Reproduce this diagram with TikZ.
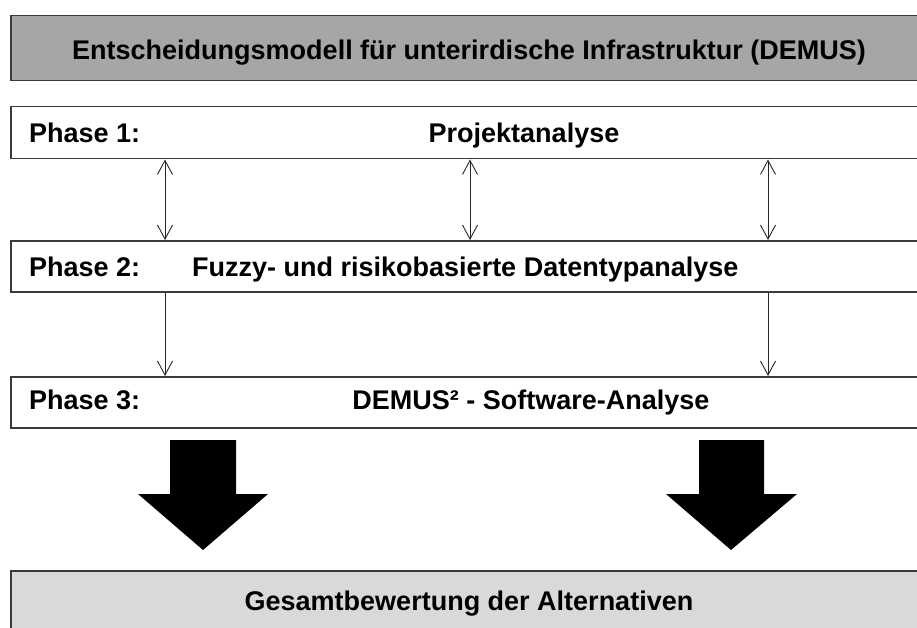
\documentclass[tikz,border=0pt]{standalone}
\usepackage{fontspec}
\setmainfont{Liberation Sans}
\usetikzlibrary{arrows.meta}
\definecolor{edge}{HTML}{3A3A3A}
\definecolor{gtop}{HTML}{A6A6A6}
\definecolor{gbot}{HTML}{D9D9D9}
\tikzset{barb/.tip={Straight Barb[length=14pt,width=15pt,line width=0.9pt]}}
\begin{document}
\begin{tikzpicture}[x=1pt,y=-1pt,
  box/.style={draw=edge, line width=1.5pt, rectangle, anchor=north west, inner sep=0pt, minimum width=925pt},
  lbl/.style={font=\fontsize{27}{30}\selectfont\bfseries, inner sep=0pt},
  conn/.style={draw=black!85, line width=0.9pt},
  bigarrow/.style={fill=black}]
\useasboundingbox (0,0) rectangle (917,628);
\clip (0,0) rectangle (917,628);
% boxes
\node[box, fill=gtop, minimum height=65pt] (top) at (10,15) {};
\node[box, fill=white, minimum height=52pt] (p1) at (10,106) {};
\node[box, fill=white, minimum height=51pt] (p2) at (10,240) {};
\node[box, fill=white, minimum height=51pt] (p3) at (10,376) {};
\node[box, fill=gbot, minimum height=80pt] (res) at (10,570) {};
% texts
\node[lbl, anchor=base] (ttop) at (469,60) {Entscheidungsmodell für unterirdische Infrastruktur (DEMUS)};
\node[lbl, anchor=base west] (ph1) at (29,143) {Phase 1:};
\node[lbl, anchor=base] (t1) at (524,143) {Projektanalyse};
\node[lbl, anchor=base west] (ph2) at (29,276) {Phase 2:};
\node[lbl, anchor=base west] (t2) at (192,276) {Fuzzy- und risikobasierte Datentypanalyse};
\node[lbl, anchor=base west] (ph3) at (29,409) {Phase 3:};
\node[lbl, anchor=base] (t3) at (531,409) {DEMUS² - Software-Analyse};
\node[lbl, anchor=base] (tres) at (469,610) {Gesamtbewertung der Alternativen};
% connector columns
\coordinate (xa) at (165,0);
\coordinate (xb) at (470,0);
\coordinate (xc) at (768,0);
\draw[conn, barb-barb] (p1.south -| xa) -- (p2.north -| xa);
\draw[conn, barb-barb] (p1.south -| xb) -- (p2.north -| xb);
\draw[conn, barb-barb] (p1.south -| xc) -- (p2.north -| xc);
\draw[conn, -barb] (p2.south -| xa) -- (p3.north -| xa);
\draw[conn, -barb] (p2.south -| xc) -- (p3.north -| xc);
% big arrows
\fill[bigarrow] (170,440) -- (236,440) -- (236,494) -- (268,494) -- (203,550) -- (138,494) -- (170,494) -- cycle;
\fill[bigarrow] (699,440) -- (764,440) -- (764,494) -- (797,494) -- (731,550) -- (666,494) -- (699,494) -- cycle;
\end{tikzpicture}
\end{document}
